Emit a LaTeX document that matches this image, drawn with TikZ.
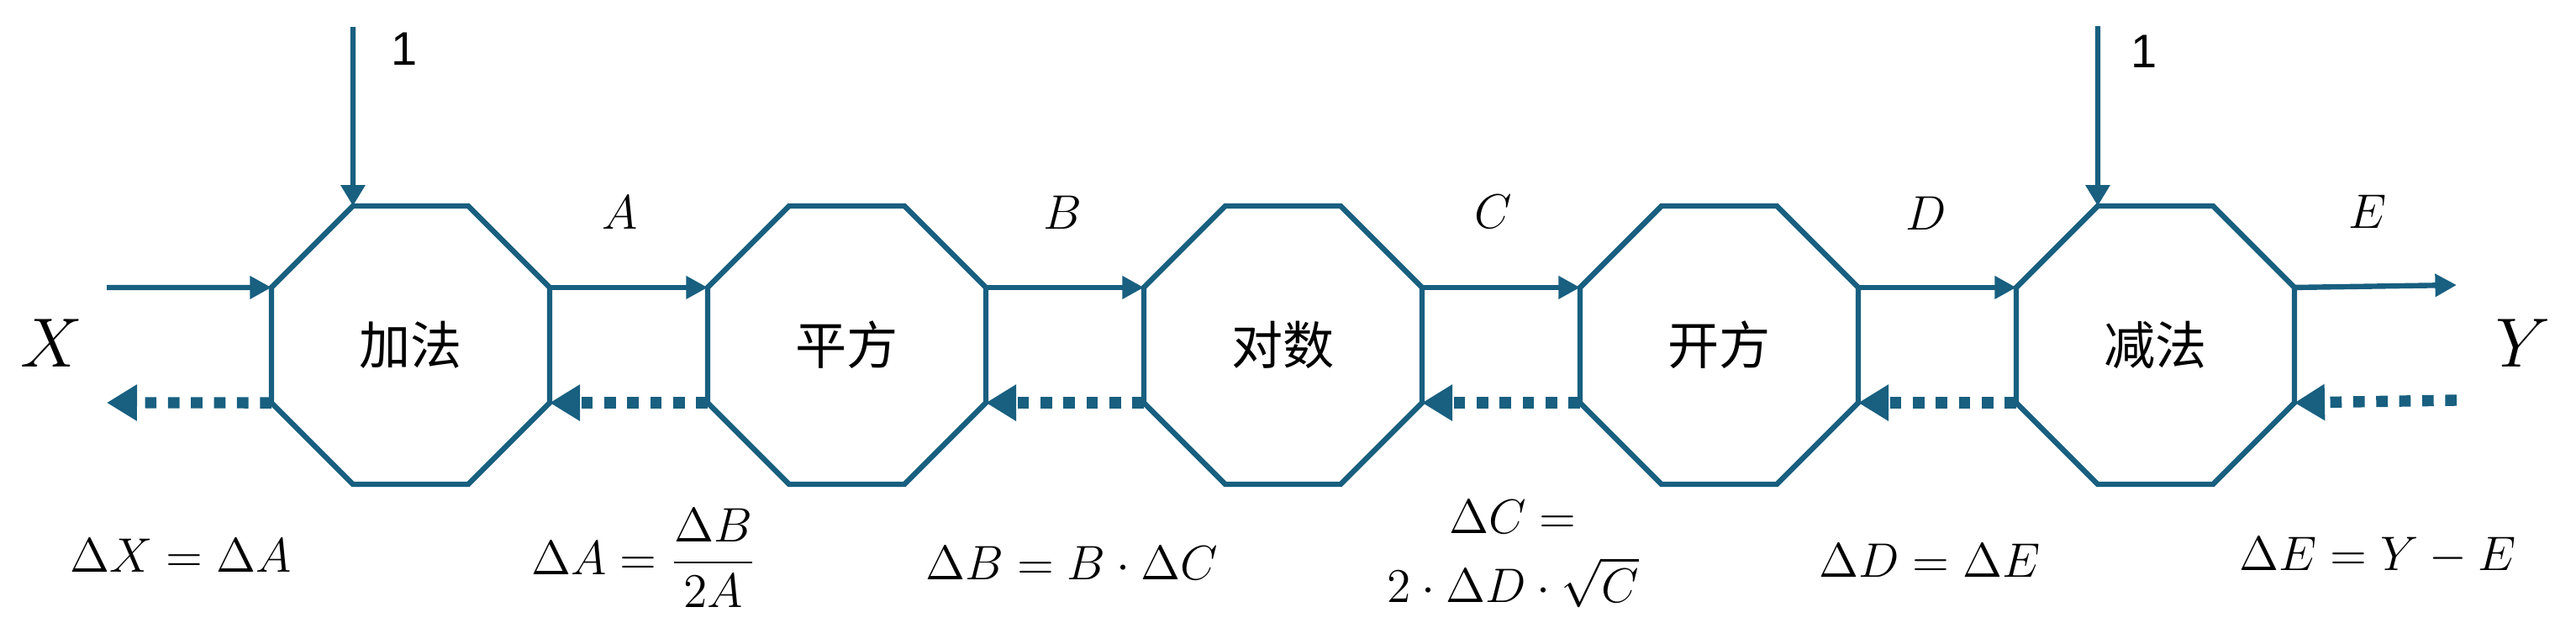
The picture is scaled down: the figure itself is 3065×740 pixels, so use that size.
\documentclass[tikz,border=0pt]{standalone}
\usepackage{amsmath}
\usepackage{fontspec}
\newfontfamily\cjkfont{Noto Sans CJK SC}
\newfontfamily\digitfont{Liberation Sans}
\usetikzlibrary{arrows.meta,shapes.geometric}
\definecolor{flow}{RGB}{24,95,128}
\begin{document}
\begin{tikzpicture}[x=0.25pt,y=-0.25pt,
  octo/.style={regular polygon, regular polygon sides=8, minimum size=89.57pt,
    inner sep=0pt, outer sep=0pt, draw=flow, line width=1.6pt,
    font=\cjkfont\fontsize{15.3}{18}\selectfont},
  fwd/.style={draw=flow, line width=1.6pt, -{Triangle[length=6.4pt,width=6.5pt]}},
  topin/.style={draw=flow, line width=1.6pt, -{Triangle[length=6.25pt,width=7pt]}},
  back/.style={draw=flow, line width=3.35pt, dash pattern=on 3.42pt off 3.42pt,
    -{Triangle[length=9pt,width=10.25pt]}},
  varlab/.style={inner sep=0pt, font=\fontsize{15.5}{18}\selectfont},
  biglab/.style={inner sep=0pt, font=\fontsize{19.5}{22}\selectfont},
  onelab/.style={inner sep=0pt, font=\digitfont\fontsize{14}{16}\selectfont},
  eqlab/.style={inner sep=0pt, align=center, font=\fontsize{15}{20.5}\selectfont}
]
\useasboundingbox (0,0) rectangle (3065,740);

% octagons
\node[octo] (o1) at (488.5,410.5) {加法};
\node[octo] (o2) at (1007.5,410.5) {平方};
\node[octo] (o3) at (1526.5,410.5) {对数};
\node[octo] (o4) at (2045.5,410.5) {开方};
\node[octo] (o5) at (2564.5,410.5) {减法};

% free ends
\coordinate (xin) at (127,342);
\coordinate (xout) at (127,479);
\coordinate (yout) at (2923,339);
\coordinate (yin) at (2923,476);
\coordinate (one1) at (420,32);
\coordinate (one5) at (2496,31);

% forward connectors
\draw[fwd] (xin) -- (o1.corner 3);
\draw[fwd] (o1.corner 8) -- (o2.corner 3);
\draw[fwd] (o2.corner 8) -- (o3.corner 3);
\draw[fwd] (o3.corner 8) -- (o4.corner 3);
\draw[fwd] (o4.corner 8) -- (o5.corner 3);
\draw[fwd] (o5.corner 8) -- (yout);
\draw[topin] (one1) -- (o1.corner 2);
\draw[topin] (one5) -- (o5.corner 2);

% backward connectors
\draw[back] (o1.corner 4) -- (xout);
\draw[back] (o2.corner 4) -- (o1.corner 7);
\draw[back] (o3.corner 4) -- (o2.corner 7);
\draw[back] (o4.corner 4) -- (o3.corner 7);
\draw[back] (o5.corner 4) -- (o4.corner 7);
\draw[back] (yin) -- (o5.corner 7);

% labels
\node[onelab] (l1a) at (481,58) {1};
\node[onelab] (l1b) at (2551,61) {1};
\node[biglab] (lx) at (61,408) {$X$};
\node[biglab] (ly) at (3002,408) {$Y$};
\node[varlab] (la) at (738,253) {$A$};
\node[varlab] (lb) at (1264,253) {$B$};
\node[varlab] (lc) at (1777,252) {$C$};
\node[varlab] (ld) at (2292,254) {$D$};
\node[varlab] (le) at (2817,252) {$E$};

\node[eqlab] (ex) at (215,661) {$\Delta X=\Delta A$};
\node[eqlab] (ea) at (766,664) {$\Delta A=\dfrac{\Delta B}{2A}$};
\node[eqlab] (eb) at (1275,670) {$\Delta B=B\cdot\Delta C$};
\node[eqlab] (ec) at (1800,659) {$\Delta C=$\\$2\cdot\Delta D\cdot\sqrt{C}$};
\node[eqlab] (ed) at (2296,667) {$\Delta D=\Delta E$};
\node[eqlab] (ee) at (2829,661) {$\Delta E=Y-E$};
\end{tikzpicture}
\end{document}
